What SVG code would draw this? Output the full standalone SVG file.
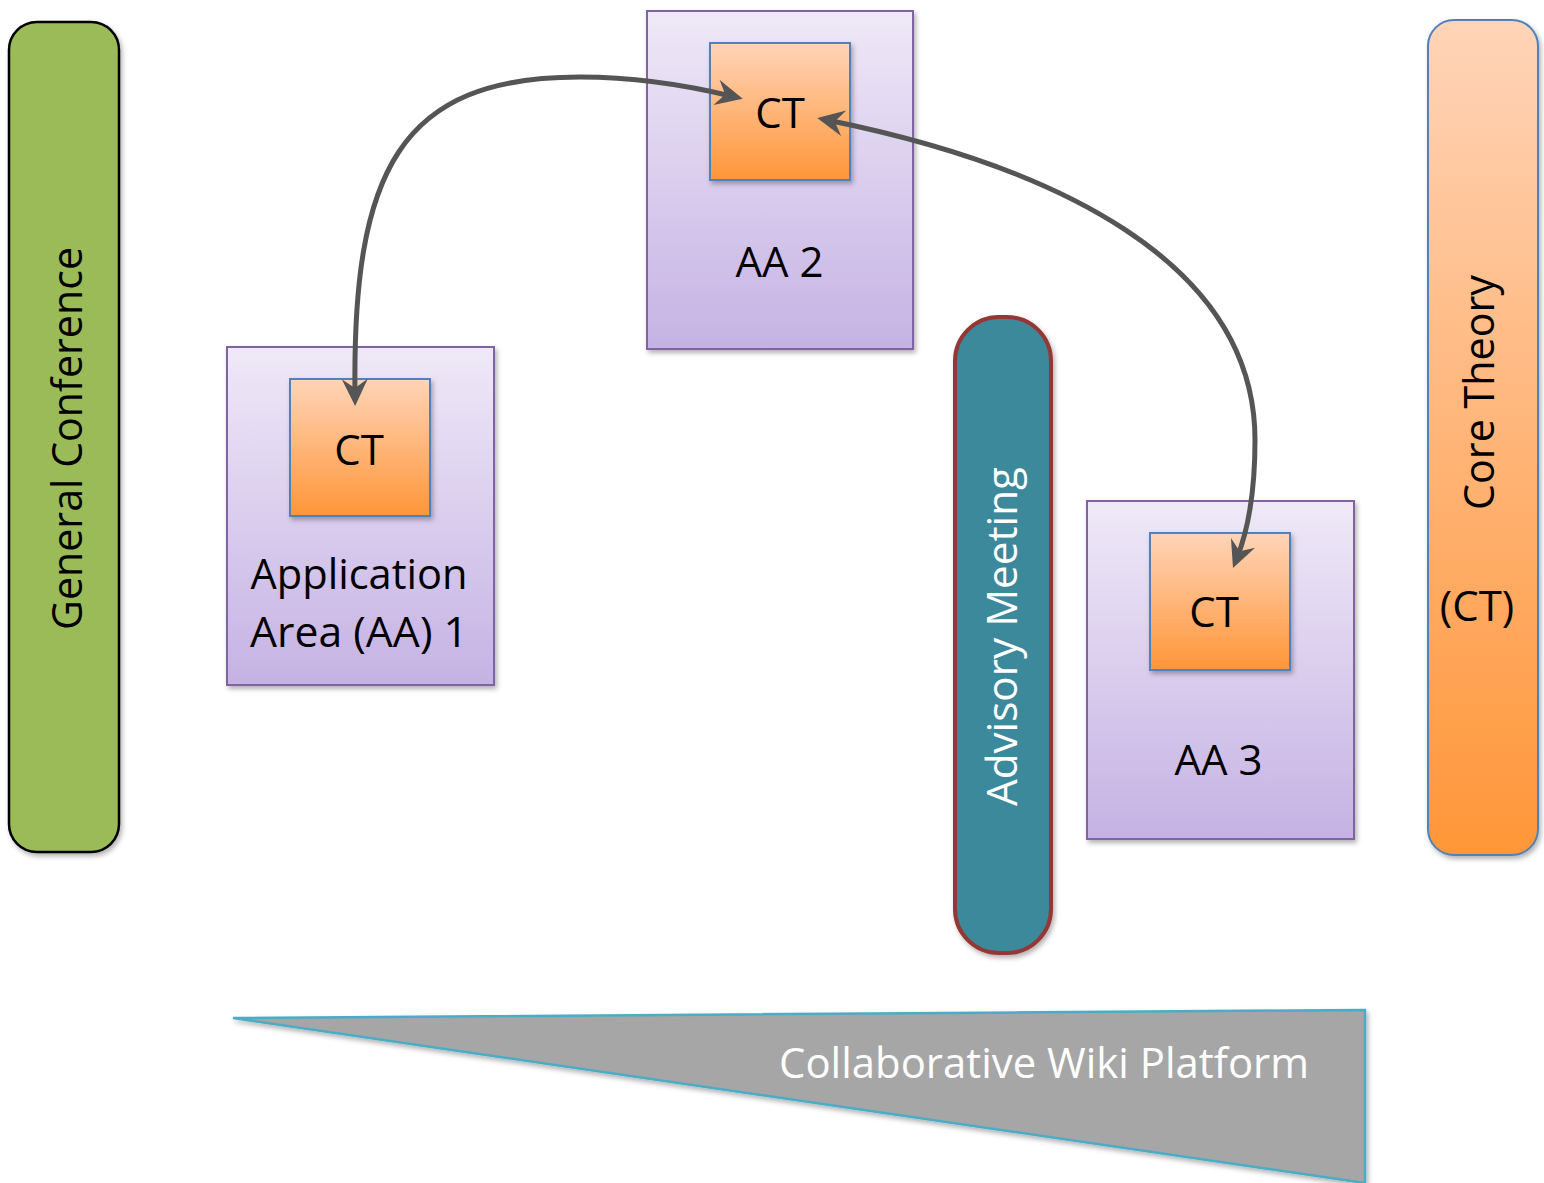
<svg xmlns="http://www.w3.org/2000/svg" width="1544" height="1183" viewBox="0 0 1544 1183">
<style>
.lbl{font-family:"Open Sans","Liberation Sans",sans-serif;font-size:42px;fill:#000;text-anchor:middle}
.w{fill:#fff}
.aa{stroke:#8064A2;stroke-width:2;fill:url(#gPurple)}
.ct{stroke:#4F81BD;stroke-width:2;fill:url(#gOrange)}
.conn{fill:none;stroke:#555555;stroke-width:5}
</style>
<defs>
<linearGradient id="gPurple" x1="0" y1="0" x2="0" y2="1">
<stop offset="0" stop-color="#EFE9F7"/>
<stop offset="1" stop-color="#C5B2E4"/>
</linearGradient>
<linearGradient id="gOrange" x1="0" y1="0" x2="0" y2="1">
<stop offset="0" stop-color="#FFD4B8"/>
<stop offset="1" stop-color="#FF9638"/>
</linearGradient>
<filter id="sh" x="-10%" y="-10%" width="130%" height="130%">
<feDropShadow dx="2" dy="3" stdDeviation="2.5" flood-color="#000" flood-opacity="0.3"/>
</filter>
<marker id="arr" markerUnits="userSpaceOnUse" markerWidth="40" markerHeight="40" refX="0" refY="0" orient="auto-start-reverse" overflow="visible">
<path d="M10,0 L-17,-13 L-8,0 L-17,13 Z" fill="#555555"/>
</marker>
</defs>
<rect width="1544" height="1183" fill="#fff"/>

<g id="general-conference">
<rect x="9" y="22" width="110" height="830" rx="28" fill="#9BBB59" stroke="#000" stroke-width="2.5" filter="url(#sh)"/>
<text class="lbl" transform="translate(82,438.5) rotate(-90)" font-size="44" textLength="383" lengthAdjust="spacingAndGlyphs">General Conference</text>
</g>

<g id="aa2">
<rect class="aa" x="647" y="11" width="266" height="338" filter="url(#sh)"/>
<rect class="ct" x="710" y="43" width="140" height="137" filter="url(#sh)"/>
<text class="lbl" x="780" y="128">CT</text>
<text class="lbl" x="779.5" y="277">AA 2</text>
</g>

<g id="aa1">
<rect class="aa" x="227" y="347" width="267" height="338" filter="url(#sh)"/>
<rect class="ct" x="290" y="379" width="140" height="137" filter="url(#sh)"/>
<text class="lbl" x="359" y="465">CT</text>
<text class="lbl" x="359" y="589" textLength="217" lengthAdjust="spacingAndGlyphs">Application</text>
<text class="lbl" x="359" y="647" textLength="218" lengthAdjust="spacingAndGlyphs">Area (AA) 1</text>
</g>

<g id="advisory-meeting">
<rect x="955" y="317" width="96" height="636" rx="44" fill="#3C899C" stroke="#953735" stroke-width="4" filter="url(#sh)"/>
<text class="lbl w" transform="translate(1017,636.5) rotate(-90)" textLength="339" lengthAdjust="spacingAndGlyphs">Advisory Meeting</text>
</g>

<g id="aa3">
<rect class="aa" x="1087" y="501" width="267" height="338" filter="url(#sh)"/>
<rect class="ct" x="1150" y="533" width="140" height="137" filter="url(#sh)"/>
<text class="lbl" x="1214" y="627">CT</text>
<text class="lbl" x="1218.5" y="775">AA 3</text>
</g>

<g id="core-theory">
<rect x="1428" y="20" width="110" height="835" rx="26" fill="url(#gOrange)" stroke="#4F81BD" stroke-width="2" filter="url(#sh)"/>
<text class="lbl" transform="translate(1494,392.5) rotate(-90)" textLength="235" lengthAdjust="spacingAndGlyphs">Core Theory</text>
<text class="lbl" x="1477" y="621">(CT)</text>
</g>

<g id="wiki-platform">
<polygon points="233,1018 1365,1010 1365,1183" fill="#A6A6A6" stroke="#4BACC6" stroke-width="2.5" filter="url(#sh)"/>
<text class="lbl w" x="1044" y="1078" font-size="44" textLength="530" lengthAdjust="spacingAndGlyphs">Collaborative Wiki Platform</text>
</g>

<g id="connectors">
<path class="conn" d="M355,396 C352,170 400,77 580,77 C640,77 690,86 733,96.5" marker-start="url(#arr)" marker-end="url(#arr)"/>
<path class="conn" d="M827,120 C1050,165 1255,260 1255,440 C1255,490 1249,528 1236.7,558.7" marker-start="url(#arr)" marker-end="url(#arr)"/>
</g>
</svg>
